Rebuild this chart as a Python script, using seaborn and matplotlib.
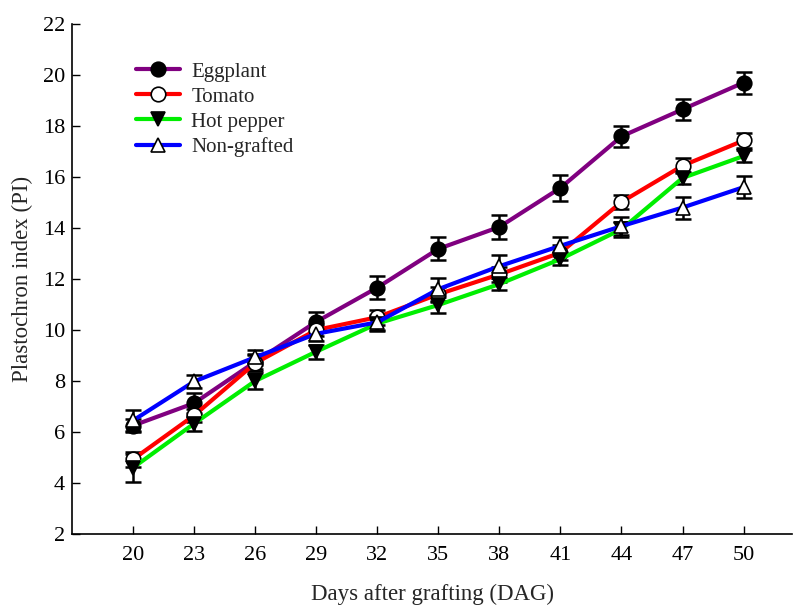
import matplotlib
matplotlib.use("Agg")
import matplotlib.pyplot as plt
import seaborn as sns
import numpy as np

days = [20, 23, 26, 29, 32, 35, 38, 41, 44, 47, 50]

eggplant = [6.25, 7.13, 8.75, 10.32, 11.66, 13.18, 14.04, 15.57, 17.59, 18.65, 19.7]
eggplant_err = [0.25, 0.4, 0.3, 0.4, 0.45, 0.45, 0.47, 0.5, 0.42, 0.42, 0.43]

tomato = [4.93, 6.65, 8.7, 10.0, 10.5, 11.4, 12.18, 13.03, 15.02, 16.44, 17.43]
tomato_err = [0.3, 0.25, 0.3, 0.25, 0.3, 0.3, 0.3, 0.3, 0.28, 0.3, 0.3]

hot_pepper = [4.6, 6.33, 8.0, 9.15, 10.25, 10.98, 11.8, 12.78, 13.95, 15.96, 16.82]
hot_pepper_err = [0.55, 0.3, 0.33, 0.28, 0.3, 0.3, 0.25, 0.25, 0.3, 0.25, 0.25]

non_grafted = [6.45, 7.98, 8.93, 9.85, 10.3, 11.6, 12.5, 13.3, 14.07, 14.8, 15.6]
non_grafted_err = [0.4, 0.27, 0.3, 0.3, 0.3, 0.45, 0.45, 0.35, 0.35, 0.43, 0.43]

series = [
    ("Eggplant", eggplant, eggplant_err, "#800080", "o", "black"),
    ("Tomato", tomato, tomato_err, "#ff0000", "o", "white"),
    ("Hot pepper", hot_pepper, hot_pepper_err, "#00ee00", "v", "black"),
    ("Non-grafted", non_grafted, non_grafted_err, "#0000ff", "^", "white"),
]

sns.set_style("ticks")
plt.rcParams["font.family"] = ["Liberation Serif", "DejaVu Serif"]

fig = plt.figure(figsize=(7.96, 6.05), dpi=100)
ax = fig.add_axes([0.0905, 0.1174, 0.905, 0.843])

for name, vals, errs, col, mk, fc in series:
    ax.errorbar(days, vals, yerr=errs, fmt="none", ecolor="black",
                elinewidth=1.8, capsize=6, capthick=1.8, zorder=3)
    sns.lineplot(x=days, y=vals, ax=ax, color=col, linewidth=3,
                 marker=mk, markersize=10.5, markerfacecolor=fc,
                 markeredgecolor="black", markeredgewidth=1.2,
                 label=name, zorder=4)

ax.set_xlim(17, 52.4)
ax.set_ylim(2, 22)
ax.set_xticks(days)
ax.set_yticks(np.arange(2, 23, 2))
ax.tick_params(direction="in", length=6, width=1, labelsize=16, colors="black")
ax.tick_params(axis="x", pad=9)
ax.tick_params(axis="y", pad=5)
for s in ["top", "right"]:
    ax.spines[s].set_visible(False)
for s in ["left", "bottom"]:
    ax.spines[s].set_color("black")
    ax.spines[s].set_linewidth(1.2)

ax.set_xlabel("Days after grafting (DAG)", fontsize=16.5, labelpad=13)
ax.set_ylabel("Plastochron index (PI)", fontsize=16.5, labelpad=7)

leg = ax.legend(loc="upper left", bbox_to_anchor=(0.063, 0.962), frameon=False,
                fontsize=15, handlelength=2.1, labelspacing=0.26, handletextpad=0.55)

fig.savefig("out.png", dpi=100)
